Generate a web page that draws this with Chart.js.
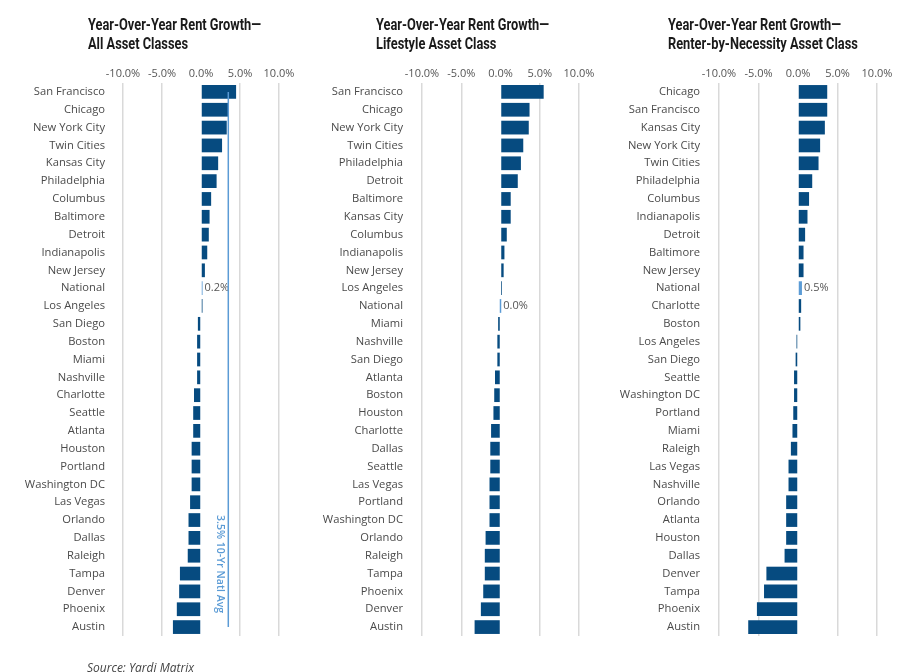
<!DOCTYPE html>
<html>
<head>
<meta charset="utf-8">
<script src="https://cdn.jsdelivr.net/npm/chart.js@4/dist/chart.umd.min.js"></script>
<style>
  html, body { margin: 0; padding: 0; background: #ffffff; }
  #wrap { position: relative; width: 913px; height: 672px; overflow: hidden; background: #fff; }
  canvas { position: absolute; top: 0; }
  .title { position: absolute; top: 15px; font-family: Roboto, "DejaVu Sans Condensed", sans-serif; font-weight: 700; font-size: 16px; line-height: 19px; color: #1a1a1a; white-space: nowrap; transform: scaleX(0.8); transform-origin: 0 0; }
  .source { position: absolute; left: 87px; top: 659px; font-family: "Open Sans", Lato, sans-serif; font-style: italic; font-size: 12px; color: #444; }
</style>
</head>
<body>
<div id="wrap">
  <canvas id="c1" width="300" height="672" style="left:0px;width:300px;height:672px"></canvas>
  <canvas id="c2" width="300" height="672" style="left:300px;width:300px;height:672px"></canvas>
  <canvas id="c3" width="313" height="672" style="left:600px;width:313px;height:672px"></canvas>
  <div class="title" style="left:88px">Year-Over-Year Rent Growth—<br>All Asset Classes</div>
  <div class="title" style="left:376px">Year-Over-Year Rent Growth—<br>Lifestyle Asset Class</div>
  <div class="title" style="left:668px">Year-Over-Year Rent Growth—<br>Renter-by-Necessity Asset Class</div>
  <div class="source">Source: Yardi Matrix</div>
</div>
<script>
// ---- Data ----
const citiesAll = ["San Francisco","Chicago","New York City","Twin Cities","Kansas City","Philadelphia","Columbus","Baltimore","Detroit","Indianapolis","New Jersey","National","Los Angeles","San Diego","Boston","Miami","Nashville","Charlotte","Seattle","Atlanta","Houston","Portland","Washington DC","Las Vegas","Orlando","Dallas","Raleigh","Tampa","Denver","Phoenix","Austin"];
const growthAll = [4.5,3.5,3.3,2.7,2.2,2.0,1.3,1.1,1.0,0.8,0.5,0.2,0.1,-0.4,-0.5,-0.5,-0.5,-0.9,-1.0,-1.0,-1.2,-1.2,-1.2,-1.4,-1.6,-1.6,-1.7,-2.7,-2.8,-3.1,-3.6];

const citiesLifestyle = ["San Francisco","Chicago","New York City","Twin Cities","Philadelphia","Detroit","Baltimore","Kansas City","Columbus","Indianapolis","New Jersey","Los Angeles","National","Miami","Nashville","San Diego","Atlanta","Boston","Houston","Charlotte","Dallas","Seattle","Las Vegas","Portland","Washington DC","Orlando","Raleigh","Tampa","Phoenix","Denver","Austin"];
const growthLifestyle = [5.5,3.7,3.6,2.9,2.6,2.2,1.3,1.3,0.8,0.5,0.4,0.1,0.0,-0.3,-0.4,-0.4,-0.7,-0.8,-0.9,-1.2,-1.3,-1.3,-1.4,-1.4,-1.4,-1.9,-2.0,-2.0,-2.2,-2.5,-3.3];

const citiesRbn = ["Chicago","San Francisco","Kansas City","New York City","Twin Cities","Philadelphia","Columbus","Indianapolis","Detroit","Baltimore","New Jersey","National","Charlotte","Boston","Los Angeles","San Diego","Seattle","Washington DC","Portland","Miami","Raleigh","Las Vegas","Nashville","Orlando","Atlanta","Houston","Dallas","Denver","Tampa","Phoenix","Austin"];
const growthRbn = [3.7,3.7,3.4,2.8,2.6,1.8,1.4,1.2,0.9,0.7,0.7,0.5,0.4,0.3,-0.1,-0.3,-0.5,-0.5,-0.6,-0.7,-0.9,-1.2,-1.2,-1.5,-1.5,-1.5,-1.7,-4.0,-4.3,-5.2,-6.3];

const tickValues = [-10, -5, 0, 5, 10];
const nationalAvg10Yr = 3.5;
const avgLabel = "3.5% 10-Yr Natl Avg";

// ---- Styles ----
const NAVY = "#064b80";
const LIGHT = "#5b9bd5";
const FONT = "'Open Sans', Lato, sans-serif";

const annotPlugin = {
  id: "annot",
  afterDatasetsDraw(chart, args, opts) {
    const ctx = chart.ctx;
    const meta = chart.getDatasetMeta(0);
    const labels = chart.data.labels;
    const vals = chart.data.datasets[0].data;
    const idx = labels.indexOf("National");
    ctx.save();
    if (idx >= 0) {
      const el = meta.data[idx];
      const xEnd = Math.max(el.x, el.base);
      ctx.font = "11px " + FONT;
      ctx.fillStyle = "#555";
      ctx.textAlign = "left";
      ctx.textBaseline = "middle";
      ctx.fillText(vals[idx].toFixed(1) + "%", xEnd + 2, el.y);
    }
    if (opts.avg !== undefined) {
      const xs = chart.scales.x, ys = chart.scales.y;
      const x = xs.getPixelForValue(opts.avg);
      const y0 = ys.getPixelForValue(0);
      const y1 = ys.getPixelForValue(labels.length - 1);
      ctx.strokeStyle = LIGHT;
      ctx.lineWidth = 1.5;
      ctx.beginPath();
      ctx.moveTo(x, y0);
      ctx.lineTo(x, y1);
      ctx.stroke();
      ctx.translate(x - 8, y1 - 14);
      ctx.rotate(Math.PI / 2);
      ctx.font = "600 10.5px " + FONT;
      ctx.fillStyle = LIGHT;
      ctx.textAlign = "right";
      ctx.textBaseline = "middle";
      ctx.fillText(opts.label, 0, 0);
    }
    ctx.restore();
  }
};

function makeChart(id, labels, values, yWidth, rightPad, labelPad, avg) {
  const colors = labels.map(l => l === "National" ? LIGHT : NAVY);
  return new Chart(document.getElementById(id), {
    type: "bar",
    data: {
      labels: labels,
      datasets: [{
        data: values,
        backgroundColor: colors,
        borderWidth: 0,
        minBarLength: 1.5,
        barPercentage: 0.77,
        categoryPercentage: 1.0
      }]
    },
    options: {
      indexAxis: "y",
      responsive: false,
      animation: false,
      layout: { padding: { top: 63, bottom: 36, left: 0, right: rightPad } },
      plugins: {
        legend: { display: false },
        tooltip: { enabled: false },
        annot: avg !== undefined ? { avg: avg, label: avgLabel } : {}
      },
      scales: {
        x: {
          position: "top",
          min: tickValues[0],
          max: tickValues[tickValues.length - 1],
          afterBuildTicks(scale) { scale.ticks = tickValues.map(v => ({ value: v })); },
          afterFit(scale) { scale.height = 20; },
          ticks: {
            padding: 3,
            autoSkip: false,
            maxRotation: 0,
            minRotation: 0,
            font: { family: FONT, size: 11 },
            color: "#555",
            callback: v => Number(v).toFixed(1) + "%"
          },
          grid: {
            drawTicks: false,
            lineWidth: 1.5,
            color: ctx => (ctx.tick && ctx.tick.value === 0) ? "rgba(0,0,0,0)" : "#d9d9d9"
          },
          border: { display: false }
        },
        y: {
          afterFit(scale) { scale.width = yWidth; },
          ticks: {
            padding: labelPad,
            autoSkip: false,
            font: { family: FONT, size: 11.2 },
            color: "#4a4a4a"
          },
          grid: { display: false, drawTicks: false },
          border: { display: false }
        }
      }
    },
    plugins: [annotPlugin]
  });
}

makeChart("c1", citiesAll, growthAll, 123, 21, 18, nationalAvg10Yr);
makeChart("c2", citiesLifestyle, growthLifestyle, 122, 21, 19);
makeChart("c3", citiesRbn, growthRbn, 119, 36, 19);
</script>
</body>
</html>
